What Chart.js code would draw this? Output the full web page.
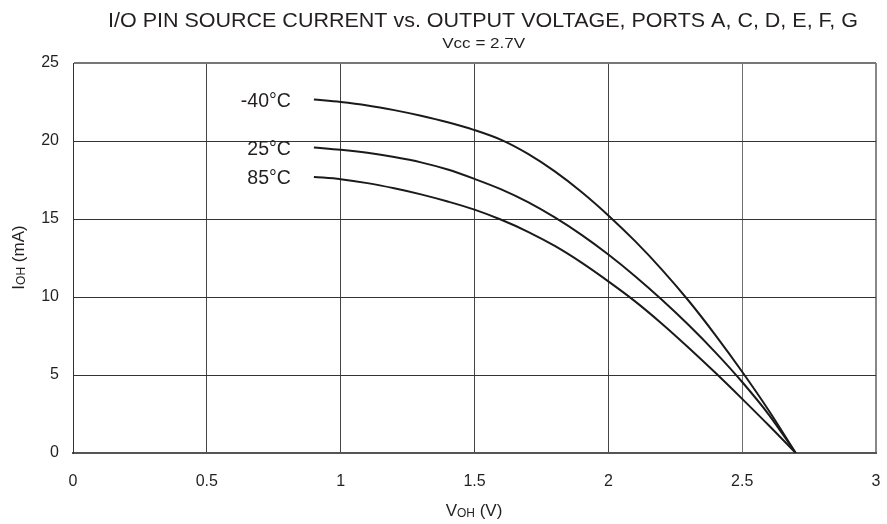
<!DOCTYPE html>
<html><head><meta charset="utf-8">
<script src="https://cdn.jsdelivr.net/npm/chart.js@4/dist/chart.umd.min.js"></script>
<style>html,body{margin:0;padding:0;background:#fff}#wrap{width:887px;height:524px}</style>
</head><body><div id="wrap"><canvas id="c" width="887" height="524"></canvas></div>
<script>
const TITLE = 'I/O PIN SOURCE CURRENT vs. OUTPUT VOLTAGE, PORTS A, C, D, E, F, G';
const SUBTITLE = 'Vcc = 2.7V';
const voltages = [0.9, 1.0, 1.1, 1.2, 1.3, 1.4, 1.5, 1.6, 1.7, 1.8, 1.9, 2.0, 2.1, 2.2, 2.3, 2.4, 2.5, 2.6, 2.7];
const iMinus40 = [22.66, 22.5, 22.28, 21.98, 21.62, 21.2, 20.7, 20.07, 19.17, 18.05, 16.73, 15.23, 13.58, 11.76, 9.76, 7.56, 5.21, 2.71, 0];
const i25 = [19.59, 19.44, 19.24, 18.97, 18.63, 18.17, 17.57, 16.9, 16.08, 15.1, 13.98, 12.72, 11.33, 9.82, 8.2, 6.45, 4.55, 2.45, 0];
const i85 = [17.7, 17.55, 17.3, 16.97, 16.58, 16.12, 15.6, 14.95, 14.18, 13.27, 12.2, 11.0, 9.72, 8.29, 6.75, 5.14, 3.47, 1.76, 0];
const seriesLabels = ['-40°C', '25°C', '85°C'];
const xTicks = [0, 0.5, 1, 1.5, 2, 2.5, 3];
const yTicks = [0, 5, 10, 15, 20, 25];
const xTitle = ['V', 'OH', ' (V)'];
const yTitle = ['I', 'OH', ' (mA)'];

const FONT = '"Liberation Sans", Arial, Helvetica, sans-serif';
const TXT = '#231f20';

function pts(ys) { return voltages.map((v, i) => ({ x: v, y: ys[i] })); }

function fitText(ctx, text, cx, base, size, width) {
  ctx.font = size + 'px ' + FONT;
  const w = ctx.measureText(text).width;
  ctx.save();
  ctx.translate(cx, base);
  ctx.scale(width / w, 1);
  ctx.textAlign = 'center';
  ctx.textBaseline = 'alphabetic';
  ctx.fillText(text, 0, 0);
  ctx.restore();
}

function drawSub(ctx, parts, size, subSize, cx, base) {
  ctx.font = size + 'px ' + FONT;
  const w1 = ctx.measureText(parts[0]).width;
  const w3 = ctx.measureText(parts[2]).width;
  ctx.font = subSize + 'px ' + FONT;
  const w2 = ctx.measureText(parts[1]).width;
  let x = cx - (w1 + w2 + w3) / 2;
  ctx.textAlign = 'left';
  ctx.textBaseline = 'alphabetic';
  ctx.font = size + 'px ' + FONT;
  ctx.fillText(parts[0], x, base); x += w1;
  ctx.font = subSize + 'px ' + FONT;
  ctx.fillText(parts[1], x, base + 1); x += w2;
  ctx.font = size + 'px ' + FONT;
  ctx.fillText(parts[2], x, base);
}

const annot = {
  id: 'annot',
  afterDraw(chart) {
    const ctx = chart.ctx;
    const xs = chart.scales.x, ys = chart.scales.y;
    ctx.save();
    ctx.fillStyle = TXT;
    fitText(ctx, TITLE, 483, 27, 20.5, 750);
    fitText(ctx, SUBTITLE, 483.7, 48.3, 15.4, 83);
    drawSub(ctx, xTitle, 17, 12, 474, 516);
    ctx.save();
    ctx.translate(24, 257.5);
    ctx.rotate(-Math.PI / 2);
    drawSub(ctx, yTitle, 17, 12, 0, 0);
    ctx.restore();
    ctx.font = '19.5px ' + FONT;
    ctx.textAlign = 'right';
    ctx.textBaseline = 'middle';
    const sets = [iMinus40, i25, i85];
    sets.forEach((s, k) => {
      const px = xs.getPixelForValue(voltages[0]) - 23;
      const py = ys.getPixelForValue(s[0]) + 2;
      ctx.fillText(seriesLabels[k], px, py);
    });
    ctx.restore();
  }
};

const lineStyle = { borderColor: '#1a1a1a', borderWidth: 2, pointRadius: 0, fill: false, cubicInterpolationMode: 'monotone' };

new Chart(document.getElementById('c'), {
  type: 'line',
  data: {
    datasets: [
      Object.assign({ label: seriesLabels[0], data: pts(iMinus40) }, lineStyle),
      Object.assign({ label: seriesLabels[1], data: pts(i25) }, lineStyle),
      Object.assign({ label: seriesLabels[2], data: pts(i85) }, lineStyle)
    ]
  },
  options: {
    responsive: false,
    animation: false,
    devicePixelRatio: 1,
    layout: { padding: { left: 0, right: 11, top: 63, bottom: 0 } },
    plugins: { legend: { display: false }, title: { display: false }, tooltip: { enabled: false } },
    scales: {
      x: {
        type: 'linear', min: 0, max: 3,
        afterBuildTicks: s => { s.ticks = xTicks.map(v => ({ value: v })); },
        afterFit: s => { s.height = 71; s.paddingRight = 0; s.paddingLeft = 0; },
        ticks: { padding: 19, color: TXT, font: { family: FONT, size: 16 }, maxRotation: 0, callback: v => String(v) },
        grid: {
          drawTicks: false,
          color: c => c.tick && c.tick.value === 3 ? '#888' : (c.tick && c.tick.value === 2.5 ? '#6f6f6f' : '#444'),
          lineWidth: c => c.tick && c.tick.value === 3 ? 2 : 1
        },
        border: { color: '#555', width: 2 }
      },
      y: {
        type: 'linear', min: 0, max: 25,
        afterBuildTicks: s => { s.ticks = yTicks.map(v => ({ value: v })); },
        afterFit: s => { s.width = 73; s.paddingTop = 0; s.paddingBottom = 0; },
        ticks: { padding: 14, color: TXT, font: { family: FONT, size: 16 }, callback: v => String(v) },
        grid: {
          drawTicks: false,
          color: c => c.tick && c.tick.value === 25 ? '#777' : '#333',
          lineWidth: c => c.tick && c.tick.value === 25 ? 2 : 1
        },
        border: { color: '#333', width: 1 }
      }
    }
  },
  plugins: [annot]
});
</script>
</body></html>
